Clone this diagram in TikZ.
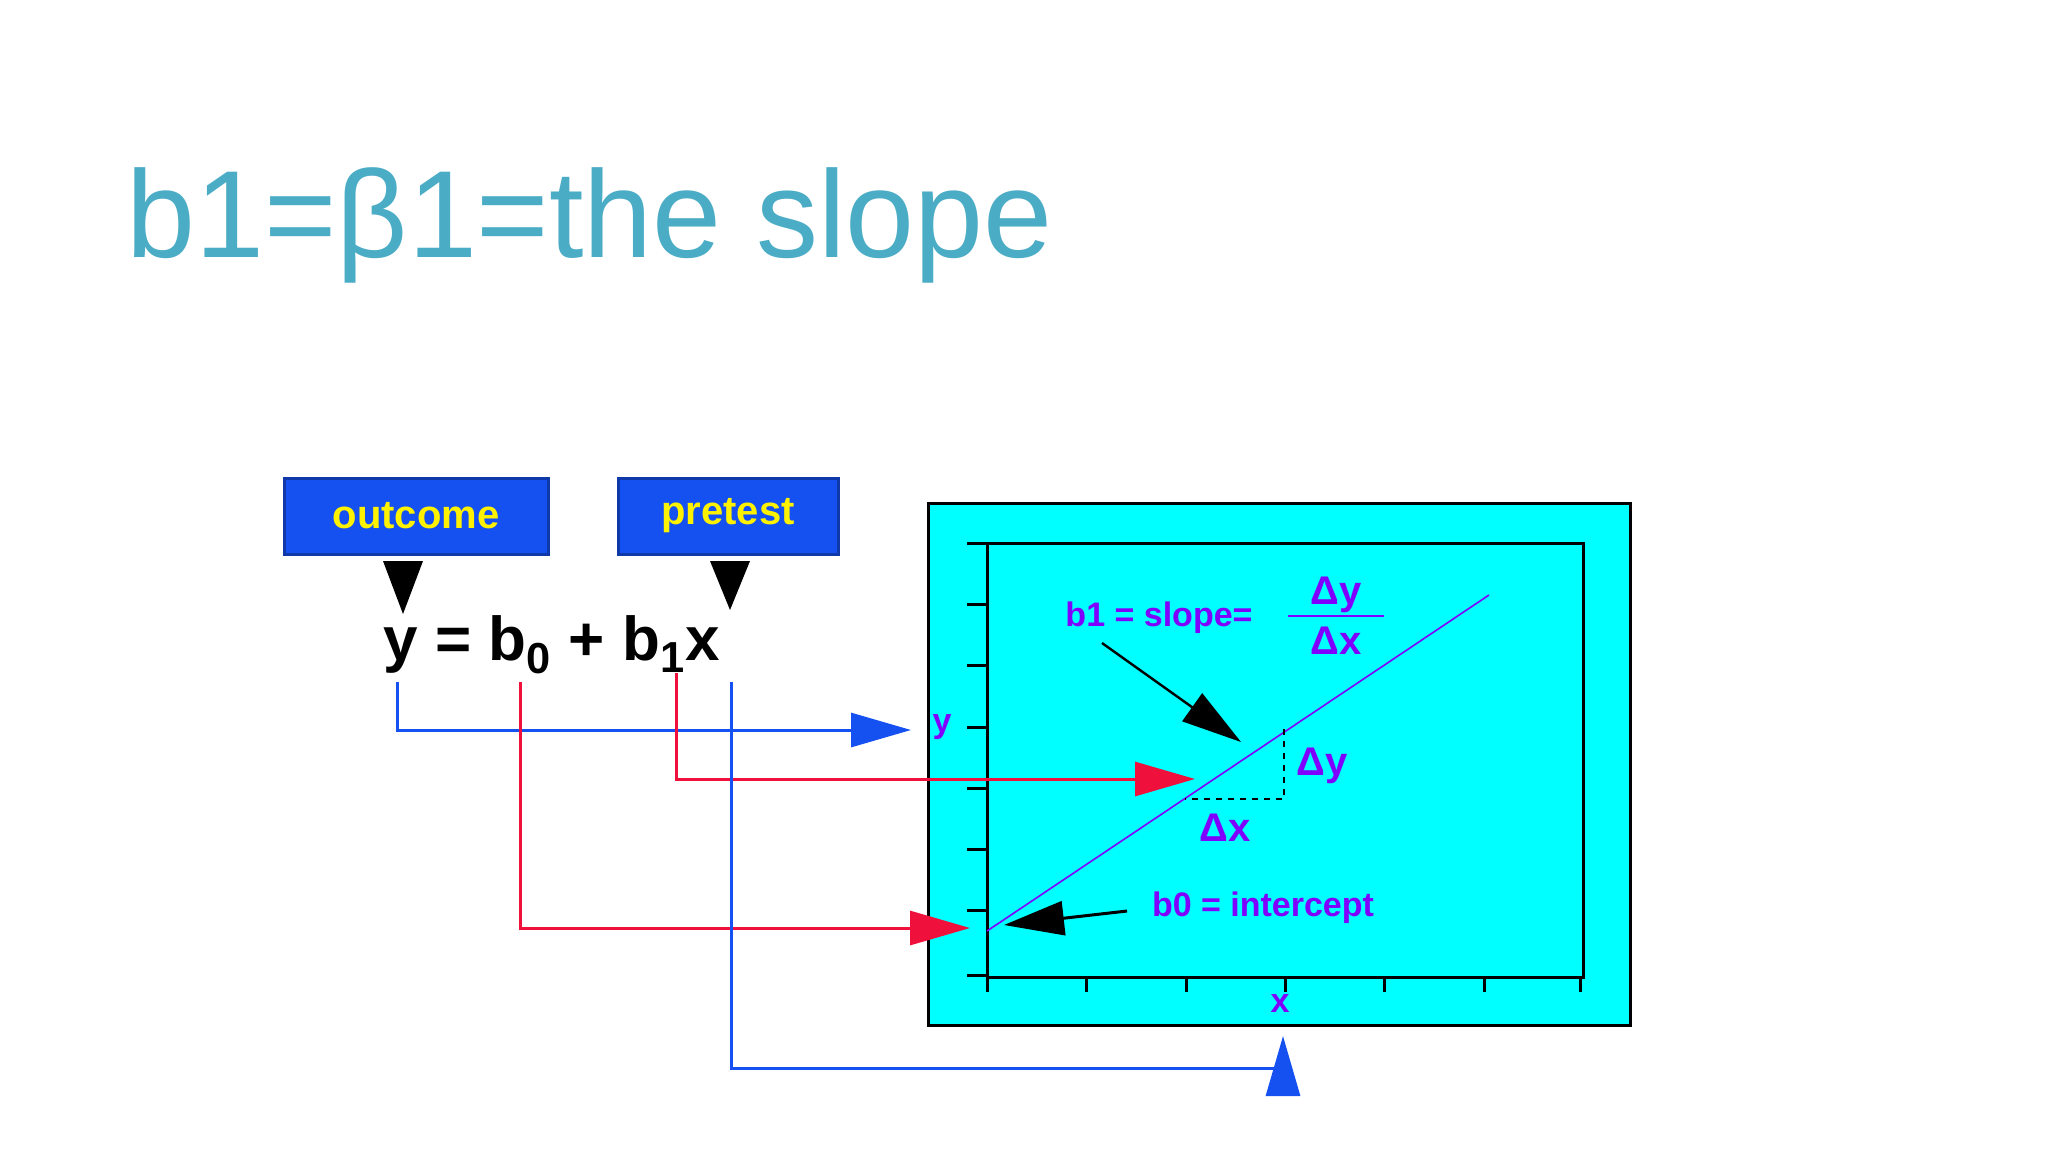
\documentclass[tikz,border=0pt]{standalone}
\usepackage{fontspec}
\setmainfont{Liberation Sans}
\usetikzlibrary{arrows.meta}
\definecolor{ttl}{HTML}{4BACC6}
\definecolor{cy}{HTML}{00FFFF}
\definecolor{pu}{HTML}{8000FF}
\definecolor{bb}{HTML}{1550F0}
\definecolor{rr}{HTML}{F0103C}
\tikzset{
 lbl/.style={text=pu,font=\fontsize{17}{20}\selectfont\bfseries,inner sep=0pt},
 tagbox/.style={fill=bb,draw=bb!70!black,line width=1.5pt,text=yellow,font=\fontsize{20}{24}\selectfont\bfseries,minimum height=38pt,inner sep=0pt},
 bigtip/.style={-{Triangle[length=30pt,width=17pt]}},
}
\begin{document}
\begin{tikzpicture}[x=0.5pt,y=-0.5pt]
\useasboundingbox (0,0) rectangle (2048,1152);
\node[anchor=base west,text=ttl,font=\fontsize{62}{70}\selectfont,inner sep=0pt] (title) at (126,257) {b1=β1=the slope};
\node[tagbox,minimum width=132pt] (out) at (416,516) {outcome};
\node[tagbox,minimum width=110pt] (pre) at (728,516) {pretest};
% equation
\node[anchor=base west,font=\fontsize{31}{36}\selectfont\bfseries,inner sep=0pt] (eq) at (383,660) {y = b\textsubscript{0} + b\textsubscript{1}x};
\coordinate (ty) at (403,614); \coordinate (tx) at (730,610);
\fill (383,561) -- (423,561) -- (ty) -- cycle;
\fill (710,561) -- (750,561) -- (tx) -- cycle;
% plot
\node[draw,line width=1.5pt,fill=cy,minimum width=351pt,minimum height=261pt,inner sep=0pt] (panel) at (1279,764.5) {};
\draw[line width=1.5pt] (987,543) rectangle (1583,977);
\foreach \yy in {543,604,665,727,788,849,910,975} \draw[line width=1.5pt] (967,\yy) -- (987,\yy);
\foreach \xx in {987,1086,1186,1285,1384,1484,1580} \draw[line width=1.5pt] (\xx,977) -- (\xx,992);
\coordinate (l0) at (987,931); \coordinate (l1) at (1489,595);
\draw[pu,line width=0.8pt] (l0) -- (l1);
\draw[dashed,line width=1.2pt] (1284,729) -- (1284,799) -- (1185,799);
\node[lbl] (ylab) at (942,727) {y};
\node[lbl] (xlab) at (1280,1003) {x};
\node[lbl,font=\fontsize{20}{24}\selectfont\bfseries] (dy) at (1322,766) {Δy};
\node[lbl,font=\fontsize{20}{24}\selectfont\bfseries] (dx) at (1225,828) {Δx};
\node[lbl] (slope) at (1159,618) {b1 = slope=};
\node[lbl,font=\fontsize{20}{24}\selectfont\bfseries] (frac) at (1336,616) {$\vcenter{\hbox{\shortstack{Δy\\[-2pt]\rule{48pt}{1.2pt}\\[2pt]Δx}}}$};
\node[lbl] (icpt) at (1263,908) {b0 = intercept};
\coordinate (sa) at (1102,643); \coordinate (sb) at (1241,742);
\draw[bigtip,line width=1.2pt] (sa) -- (sb);
\coordinate (ia) at (1127,911); \coordinate (ib) at (1004,925);
\draw[bigtip,line width=1.5pt] (ia) -- (ib);
% connectors
\coordinate (yb) at (397,682); \coordinate (ye) at (911,730);
\draw[bb,line width=1.5pt,bigtip] (yb) |- (ye);
\coordinate (b1b) at (676,673); \coordinate (b1e) at (1195,779);
\draw[rr,line width=1.5pt,bigtip] (b1b) |- (b1e);
\coordinate (b0b) at (520,682); \coordinate (b0e) at (970,928);
\draw[rr,line width=1.5pt,bigtip] (b0b) |- (b0e);
\coordinate (xb) at (731,682); \coordinate (xc) at (1283,1068); \coordinate (xe) at (1283,1036);
\draw[bb,line width=1.5pt] (xb) |- (xc);
\draw[bb,line width=1.5pt,-{Triangle[length=30pt,width=17pt]}] (1283,1092) -- (1283,1036);
\end{tikzpicture}
\end{document}
